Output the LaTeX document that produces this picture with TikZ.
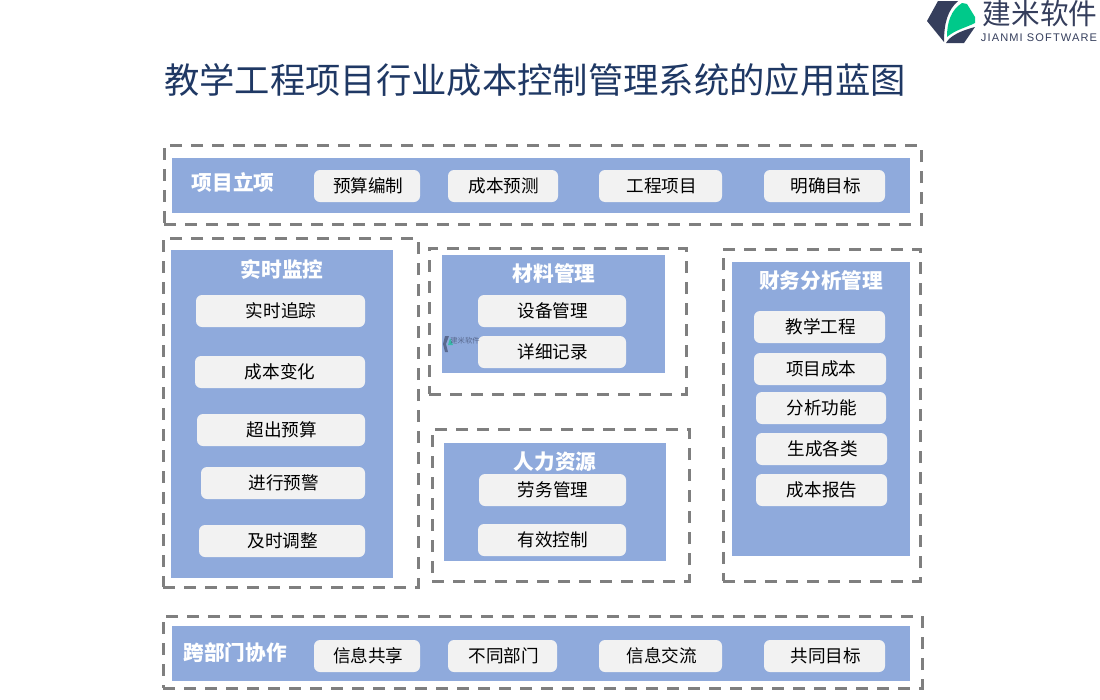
\documentclass[tikz,border=0pt]{standalone}
\usepackage{fontspec}
\setmainfont{Noto Sans CJK SC}
\newfontfamily\logolatin[LetterSpace=10]{Liberation Sans}
\usepackage{xcolor}
\definecolor{panelblue}{RGB}{143,170,220}
\definecolor{chipgray}{RGB}{242,242,242}
\definecolor{framegray}{RGB}{127,127,127}
\definecolor{titlenavy}{RGB}{31,56,100}
\definecolor{logodark}{RGB}{53,62,92}
\definecolor{logogreen}{RGB}{0,201,138}
\def\px{0.75pt}

\begin{document}
\begin{tikzpicture}[
    x=0.75pt, y=-0.75pt,
    frame/.style={rectangle, draw=framegray, line width=3*\px, dash pattern=on 12*\px off 9*\px,
                  anchor=north west, inner sep=0pt, outer sep=0pt},
    panel/.style={rectangle, fill=panelblue, anchor=north west, inner sep=0pt, outer sep=0pt},
    chip/.style={rectangle, fill=chipgray, rounded corners=4.5pt, anchor=north west, inner sep=0pt,
                 outer sep=0pt, minimum height=32*\px, font=\fontsize{13.2pt}{15pt}\selectfont, text=black},
    head/.style={font=\fontsize{15.5pt}{18pt}\selectfont\bfseries, text=white, inner sep=0pt}
]
\useasboundingbox (0,0) rectangle (1100,700);

% Title and logo
\node[font=\fontsize{26.5pt}{30pt}\selectfont, text=titlenavy, inner sep=0pt] (title) at (535,80) {教学工程项目行业成本控制管理系统的应用蓝图};
\fill[logodark] (938,1) -- (958,1) .. controls (948,10) and (944,22) .. (944,42) -- (927,21) -- cycle;
\fill[logogreen] (947,37) .. controls (947,22) and (951,10) .. (962,3) -- (967,4) -- (975,17) -- (975,23) .. controls (965,28) and (955,30) .. (947,37) -- cycle;
\fill[logodark] (946,43) .. controls (950,36) and (960,31) .. (975,27) -- (964,43) -- cycle;
\node[font=\fontsize{21.5pt}{24pt}\selectfont, text=logodark, inner sep=0pt] (logocn) at (1040,14) {建米软件};
\node[font=\fontsize{8.3pt}{10pt}\selectfont\logolatin, text=logodark, inner sep=0pt] (logoen) at (1039,38) {JIANMI SOFTWARE};

% Top band
\node[frame, minimum width=757*\px, minimum height=79*\px] (topframe) at (164,145) {};
\node[panel, minimum width=738*\px, minimum height=55*\px] (topband) at (172,158) {};
\node[head] (toptitle) at (233,183) {项目立项};
\node[chip, minimum width=106*\px] (budget) at (314,170) {\hspace{2pt}预算编制};
\node[chip, minimum width=110*\px] (forecast) at (448,170) {\hspace{1pt}成本预测};
\node[chip, minimum width=123*\px] (project) at (599,170) {\hspace{2pt}工程项目};
\node[chip, minimum width=121*\px] (target) at (764,170) {\hspace{2pt}明确目标};

% Real-time monitoring
\node[frame, minimum width=255*\px, minimum height=349*\px] (monframe) at (163,238) {};
\node[panel, minimum width=222*\px, minimum height=328*\px] (monpanel) at (171,250) {};
\node[head] (montitle) at (282,269) {实时监控};
\node[chip, minimum width=169*\px] (track) at (196,295) {\hspace{1pt}实时追踪};
\node[chip, minimum width=170*\px] (change) at (195,356) {成本变化};
\node[chip, minimum width=168*\px] (over) at (197,414) {\hspace{1pt}超出预算};
\node[chip, minimum width=164*\px] (warn) at (201,467) {\hspace{1pt}进行预警};
\node[chip, minimum width=166*\px] (adjust) at (199,525) {\hspace{1pt}及时调整};

% Materials
\node[frame, minimum width=257*\px, minimum height=146*\px] (matframe) at (429,248) {};
\node[panel, minimum width=223*\px, minimum height=118*\px] (matpanel) at (442,255) {};
\node[head] (mattitle) at (554,274) {材料管理};
\node[chip, minimum width=148*\px] (device) at (478,295) {\hspace{1pt}设备管理};
\node[chip, minimum width=148*\px] (record) at (478,336) {\hspace{1pt}详细记录};
\fill[logodark, opacity=0.6] (445,336) -- (449,336) -- (446,344) -- (448,352) -- (445,352) -- (443,344) -- cycle;
\fill[logogreen, opacity=0.6] (448,345) -- (450,338) -- (453,345) -- cycle;
\node[font=\fontsize{5.5pt}{6pt}\selectfont, text=logodark, opacity=0.6, inner sep=0pt] (markcn) at (465,341) {建米软件};

% Human resources
\node[frame, minimum width=257*\px, minimum height=152*\px] (hrframe) at (432,429) {};
\node[panel, minimum width=222*\px, minimum height=118*\px] (hrpanel) at (444,443) {};
\node[head] (hrtitle) at (555,462) {人力资源};
\node[chip, minimum width=147*\px] (labor) at (479,474) {\hspace{1pt}劳务管理};
\node[chip, minimum width=148*\px] (control) at (478,524) {\hspace{1pt}有效控制};

% Finance
\node[frame, minimum width=197*\px, minimum height=332*\px] (finframe) at (723,249) {};
\node[panel, minimum width=178*\px, minimum height=294*\px] (finpanel) at (732,262) {};
\node[head] (fintitle) at (821,281) {财务分析管理};
\node[chip, minimum width=131*\px] (teach) at (754,311) {\hspace{2pt}教学工程};
\node[chip, minimum width=132*\px] (cost) at (754,353) {\hspace{2pt}项目成本};
\node[chip, minimum width=130*\px] (analyse) at (756,392) {\hspace{1pt}分析功能};
\node[chip, minimum width=131*\px] (generate) at (756,433) {\hspace{2pt}生成各类};
\node[chip, minimum width=131*\px] (report) at (756,474) {\hspace{1pt}成本报告};

% Bottom band
\node[frame, minimum width=759*\px, minimum height=72*\px] (botframe) at (163,616) {};
\node[panel, minimum width=738*\px, minimum height=55*\px] (botband) at (172,626) {};
\node[head] (bottitle) at (235,653) {跨部门协作};
\node[chip, minimum width=106*\px] (share) at (314,640) {\hspace{2pt}信息共享};
\node[chip, minimum width=109*\px] (depts) at (448,640) {\hspace{2pt}不同部门};
\node[chip, minimum width=123*\px] (exchange) at (599,640) {\hspace{2pt}信息交流};
\node[chip, minimum width=121*\px] (common) at (764,640) {\hspace{2pt}共同目标};

\end{tikzpicture}
\end{document}
